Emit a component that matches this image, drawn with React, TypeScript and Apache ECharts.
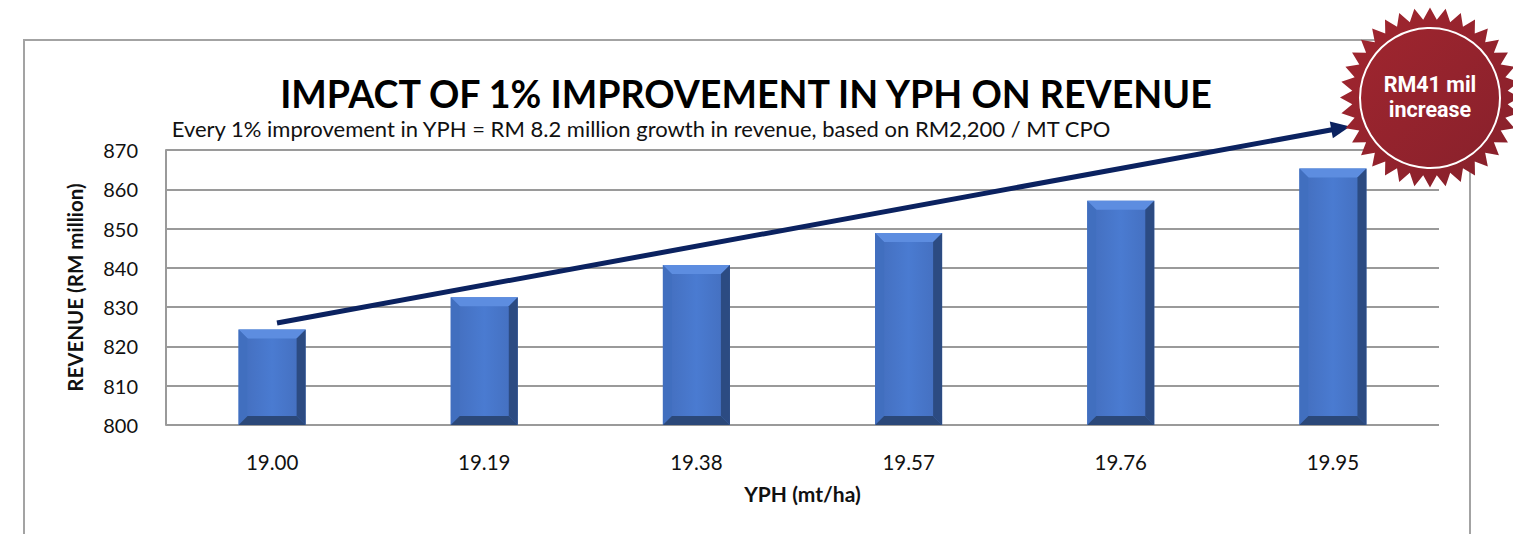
import React, { useEffect, useRef } from "react";
import * as echarts from "echarts";

const categories = ["19.00", "19.19", "19.38", "19.57", "19.76", "19.95"];
const revenue = [824.3, 832.5, 840.7, 848.9, 857.1, 865.3];
const yMin = 800;
const yMax = 870;
const yStep = 10;

const titleText = "IMPACT OF 1% IMPROVEMENT IN YPH ON REVENUE";
const subtitleText =
  "Every 1% improvement in YPH = RM 8.2 million growth in revenue, based on RM2,200 / MT CPO";
const badgeLines = ["RM41 mil", "increase"];

function starPoints(cx: number, cy: number, rOut: number, rIn: number, n: number) {
  const pts: number[][] = [];
  for (let i = 0; i < n * 2; i++) {
    const r = i % 2 === 0 ? rOut : rIn;
    const a = (Math.PI * i) / n - Math.PI / 2;
    pts.push([cx + r * Math.cos(a), cy + r * Math.sin(a)]);
  }
  return pts;
}

export default function App() {
  const ref = useRef<HTMLDivElement>(null);
  useEffect(() => {
    if (!ref.current) return;
    const chart = echarts.init(ref.current, undefined, { renderer: "svg" });

    // arrow geometry
    const sx = 277, sy = 323, tx = 1350, ty = 126.5;
    const dx = tx - sx, dy = ty - sy;
    const len = Math.sqrt(dx * dx + dy * dy);
    const ux = dx / len, uy = dy / len;
    const nx = -uy, ny = ux;
    const headLen = 19, headHalf = 8.5;
    const bx = tx - ux * headLen, by = ty - uy * headLen;

    const bevel = 9;

    const option: any = {
      animation: false,
      backgroundColor: "#ffffff",
      title: [
        {
          text: titleText,
          left: 741,
          top: 69,
          textAlign: "center",
          textStyle: { fontFamily: "Lato", fontWeight: "bold", fontSize: 37.6, color: "#000" },
        },
        {
          text: subtitleText,
          left: 636,
          top: 112,
          textAlign: "center",
          textStyle: { fontFamily: "Lato", fontWeight: "normal", fontSize: 22, color: "#111" },
        },
      ],
      grid: { left: 166, right: 74, top: 150, bottom: 109, containLabel: false },
      xAxis: {
        type: "category",
        data: categories,
        name: "YPH (mt/ha)",
        nameLocation: "middle",
        nameGap: 58,
        nameTextStyle: { fontFamily: "Lato", fontWeight: "bold", fontSize: 21, color: "#111" },
        axisLine: { show: false },
        axisTick: { show: false },
        axisLabel: { fontFamily: "Lato", fontSize: 20.5, color: "#111", margin: 26 },
      },
      yAxis: {
        type: "value",
        min: yMin,
        max: yMax,
        interval: yStep,
        name: "REVENUE (RM million)",
        nameLocation: "middle",
        nameGap: 81,
        nameRotate: 90,
        nameTextStyle: { fontFamily: "Lato", fontWeight: "bold", fontSize: 20.5, color: "#111" },
        axisLine: { show: true, lineStyle: { color: "#9a9a9a", width: 2 } },
        axisTick: { show: false },
        axisLabel: { fontFamily: "Lato", fontSize: 20, color: "#111", margin: 28 },
        splitLine: { show: true, lineStyle: { color: "#9a9a9a", width: 2 } },
      },
      series: [
        {
          type: "custom",
          data: revenue.map((v, i) => [i, v]),
          encode: { x: 0, y: 1 },
          renderItem: (params: any, api: any) => {
            const idx = api.value(0);
            const val = api.value(1);
            const top = api.coord([idx, val]);
            const base = api.coord([idx, yMin]);
            const bw = api.size([1, 0])[0] * 0.316;
            const x0 = top[0] - bw / 2;
            const x1 = top[0] + bw / 2;
            const y0 = top[1];
            const y1 = base[1];
            const b = bevel;
            return {
              type: "group",
              children: [
                {
                  type: "rect",
                  shape: { x: x0, y: y0, width: x1 - x0, height: y1 - y0 },
                  style: { fill: "#4776c8" },
                },
                {
                  type: "rect",
                  shape: { x: x0 + b, y: y0 + b, width: x1 - x0 - 2 * b, height: y1 - y0 - 2 * b },
                  style: {
                    fill: new echarts.graphic.LinearGradient(0, 0, 1, 0, [
                      { offset: 0, color: "#4571c2" },
                      { offset: 0.5, color: "#4a7bd1" },
                      { offset: 1, color: "#4571c2" },
                    ]),
                  },
                },
                {
                  type: "polygon",
                  shape: { points: [[x0, y0], [x1, y0], [x1 - b, y0 + b], [x0 + b, y0 + b]] },
                  style: { fill: "#5d8de0" },
                },
                {
                  type: "polygon",
                  shape: { points: [[x0, y0], [x0 + b, y0 + b], [x0 + b, y1 - b], [x0, y1]] },
                  style: { fill: "#416fbf" },
                },
                {
                  type: "polygon",
                  shape: { points: [[x1, y0], [x1, y1], [x1 - b, y1 - b], [x1 - b, y0 + b]] },
                  style: { fill: "#2c4b82" },
                },
                {
                  type: "polygon",
                  shape: { points: [[x0, y1], [x0 + b, y1 - b], [x1 - b, y1 - b], [x1, y1]] },
                  style: { fill: "#2b4879" },
                },
              ],
            };
          },
          z: 3,
        },
      ],
      graphic: [
        {
          type: "rect",
          z: -10,
          shape: { x: 24, y: 40, width: 1446, height: 600 },
          style: { fill: "none", stroke: "#a3a3a3", lineWidth: 2 },
        },
        {
          type: "line",
          z: 10,
          shape: { x1: sx, y1: sy, x2: bx + ux * 2, y2: by + uy * 2 },
          style: { stroke: "#0b2260", lineWidth: 5 },
        },
        {
          type: "polygon",
          z: 10,
          shape: {
            points: [
              [tx, ty],
              [bx + nx * headHalf, by + ny * headHalf],
              [bx - nx * headHalf, by - ny * headHalf],
            ],
          },
          style: { fill: "#0b2260" },
        },
        {
          type: "polygon",
          z: 20,
          shape: { points: starPoints(1430, 97.5, 90, 78, 36) },
          style: {
            fill: new echarts.graphic.LinearGradient(0, 0, 1, 1, [
              { offset: 0, color: "#a2262f" },
              { offset: 1, color: "#86202b" },
            ]),
          },
        },
        {
          type: "circle",
          z: 21,
          shape: { cx: 1430, cy: 98, r: 70 },
          style: { fill: "none", stroke: "#ffffff", lineWidth: 2 },
        },
        {
          type: "text",
          z: 22,
          x: 1430,
          y: 84,
          style: {
            text: badgeLines[0],
            fontFamily: "Roboto",
            fontWeight: "bold",
            fontSize: 21.5,
            fill: "#ffffff",
            textAlign: "center",
            textVerticalAlign: "middle",
          },
        },
        {
          type: "text",
          z: 22,
          x: 1430,
          y: 109.5,
          style: {
            text: badgeLines[1],
            fontFamily: "Roboto",
            fontWeight: "bold",
            fontSize: 21.5,
            fill: "#ffffff",
            textAlign: "center",
            textVerticalAlign: "middle",
          },
        },
      ],
    };
    chart.setOption(option);
    return () => chart.dispose();
  }, []);
  return (
    <div
      ref={ref}
      style={{ position: "fixed", left: 0, top: 0, width: 1513, height: 534, background: "#fff" }}
    />
  );
}
